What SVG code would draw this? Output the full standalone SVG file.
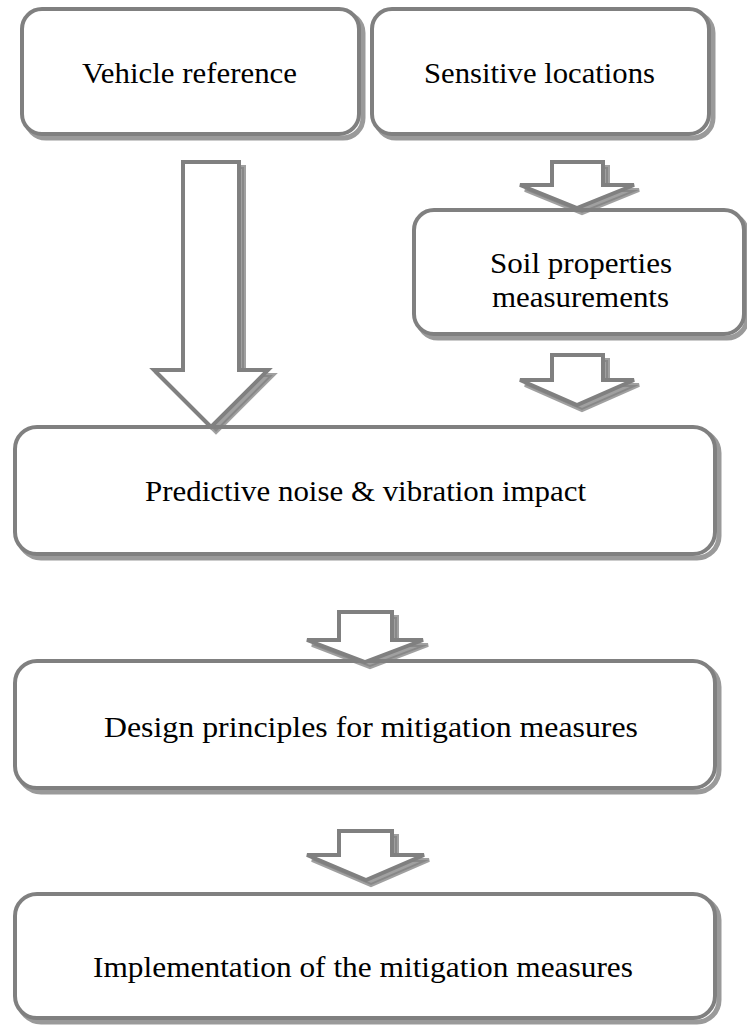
<svg xmlns="http://www.w3.org/2000/svg" width="747" height="1027" viewBox="0 0 747 1027">
  <style>
    .shadow { fill: none; stroke: #9a9a9a; stroke-width: 5; }
    .box { fill: #ffffff; stroke: #808080; stroke-width: 4; }
    .label { font-family: "Liberation Serif", "Times New Roman", serif; font-size: 29px; fill: #000000; }
    .arrow-shadow { fill: #808080; fill-opacity: 0.75; stroke: #808080; stroke-opacity: 0.75; stroke-width: 4; stroke-linejoin: miter; }
    .arrow { fill: #ffffff; stroke: #808080; stroke-width: 4; stroke-linejoin: miter; }
  </style>
  <rect width="747" height="1027" fill="#ffffff"/>

  <g id="node-vehicle">
    <rect class="shadow" x="26" y="13" width="337" height="125" rx="20"/>
    <rect class="box" x="22" y="9" width="337" height="125" rx="20"/>
    <text class="label" x="82" y="83" textLength="215" lengthAdjust="spacingAndGlyphs">Vehicle reference</text>
  </g>

  <g id="node-sensitive">
    <rect class="shadow" x="376" y="13" width="337" height="125" rx="20"/>
    <rect class="box" x="372" y="9" width="337" height="125" rx="20"/>
    <text class="label" x="424" y="83" textLength="231" lengthAdjust="spacingAndGlyphs">Sensitive locations</text>
  </g>

  <g id="node-soil">
    <rect class="shadow" x="418" y="214" width="329" height="124" rx="20"/>
    <rect class="box" x="414" y="210" width="330" height="124" rx="20"/>
    <text class="label" x="490" y="273" textLength="182" lengthAdjust="spacingAndGlyphs">Soil properties</text>
    <text class="label" x="492" y="307" textLength="177" lengthAdjust="spacingAndGlyphs">measurements</text>
  </g>

  <g id="node-predictive">
    <rect class="shadow" x="19" y="431" width="700" height="127" rx="22"/>
    <rect class="box" x="15" y="427" width="700" height="127" rx="22"/>
    <text class="label" x="145" y="501" textLength="441" lengthAdjust="spacingAndGlyphs">Predictive noise &amp; vibration impact</text>
  </g>

  <g id="node-design">
    <rect class="shadow" x="19" y="665" width="700" height="127" rx="22"/>
    <rect class="box" x="15" y="661" width="700" height="127" rx="22"/>
    <text class="label" x="104" y="737" textLength="534" lengthAdjust="spacingAndGlyphs">Design principles for mitigation measures</text>
  </g>

  <g id="node-implementation">
    <rect class="shadow" x="19" y="898" width="700" height="124" rx="22"/>
    <rect class="box" x="15" y="894" width="700" height="124" rx="22"/>
    <text class="label" x="93" y="977" textLength="540" lengthAdjust="spacingAndGlyphs">Implementation of the mitigation measures</text>
  </g>

  <g id="connectors">
    <!-- long block arrow: vehicle reference to predictive impact -->
    <polygon class="arrow-shadow" points="188,167 244,167 244,375 273,375 216,432 159,375 188,375"/>
    <polygon class="arrow" points="183,162 239,162 239,370 268,370 211,427 154,370 183,370"/>

    <!-- sensitive locations to soil properties -->
    <polygon class="arrow-shadow" points="557,167 608,167 608,190 639,190 582,213 525,190 557,190"/>
    <polygon class="arrow" points="552,162 603,162 603,185 634,185 577,208 520,185 552,185"/>

    <!-- soil properties to predictive impact -->
    <polygon class="arrow-shadow" points="557,360 608,360 608,385 639,385 582,410 525,385 557,385"/>
    <polygon class="arrow" points="552,355 603,355 603,380 634,380 577,405 520,380 552,380"/>

    <!-- predictive impact to design principles -->
    <polygon class="arrow-shadow" points="344,617 397,617 397,645 428,645 370,667 312,645 344,645"/>
    <polygon class="arrow" points="339,612 392,612 392,640 423,640 365,662 307,640 339,640"/>

    <!-- design principles to implementation -->
    <polygon class="arrow-shadow" points="344,836 397,836 397,860 429,860 371,885 312,860 344,860"/>
    <polygon class="arrow" points="339,831 392,831 392,855 424,855 366,880 307,855 339,855"/>
  </g>
</svg>
